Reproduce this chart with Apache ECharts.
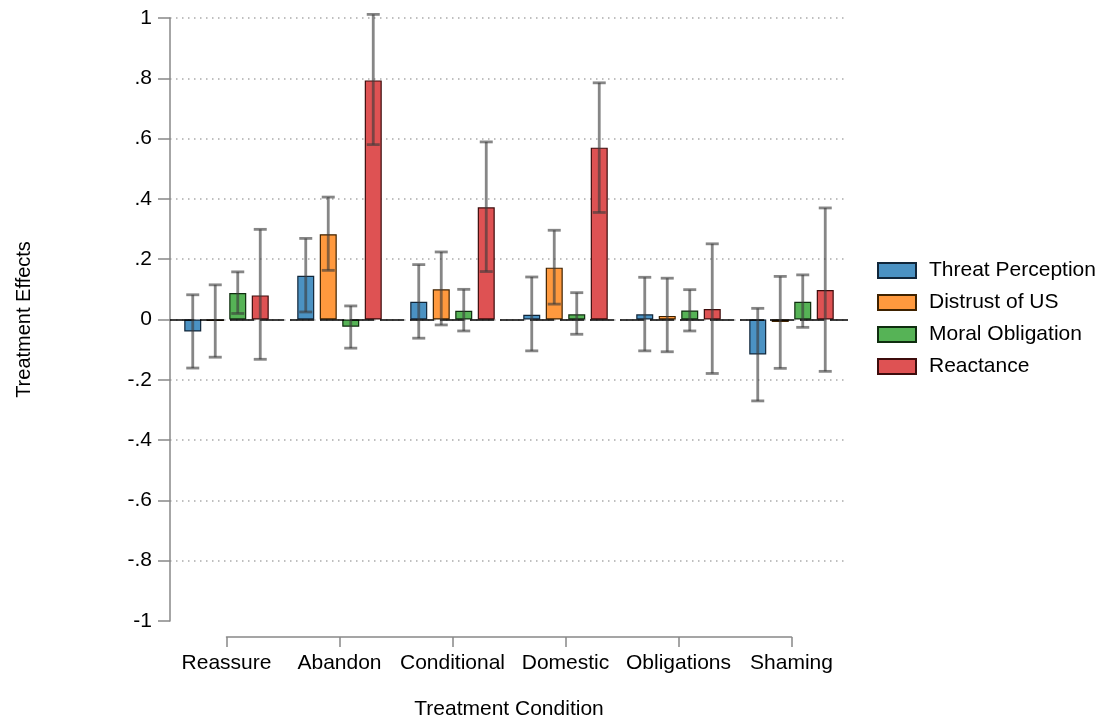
<!DOCTYPE html>
<html>
<head>
<meta charset="utf-8">
<script src="https://cdn.jsdelivr.net/npm/echarts@6/dist/echarts.min.js"></script>
<style>
  html, body { margin: 0; padding: 0; background: #fff; }
  #chart { width: 1107px; height: 721px; }
</style>
</head>
<body>
<div id="chart"></div>
<script>
// categories and series
const categories = ['Reassure', 'Abandon', 'Conditional', 'Domestic', 'Obligations', 'Shaming'];
const seriesNames = ['Threat Perception', 'Distrust of US', 'Moral Obligation', 'Reactance'];

// point estimates
const threatVal = [-0.04, 0.145, 0.059, 0.016, 0.017, -0.116];
const distrustVal = [-0.005, 0.283, 0.100, 0.172, 0.012, -0.008];
const moralVal = [0.088, -0.024, 0.029, 0.017, 0.030, 0.059];
const reactVal = [0.080, 0.793, 0.372, 0.570, 0.035, 0.098];

// confidence intervals (low / high)
const threatLo = [-0.161, 0.025, -0.062, -0.104, -0.104, -0.270];
const threatHi = [0.082, 0.269, 0.182, 0.141, 0.140, 0.037];
const distrustLo = [-0.125, 0.163, -0.018, 0.051, -0.107, -0.162];
const distrustHi = [0.115, 0.406, 0.224, 0.296, 0.137, 0.143];
const moralLo = [0.020, -0.095, -0.038, -0.049, -0.038, -0.026];
const moralHi = [0.158, 0.045, 0.100, 0.089, 0.099, 0.148];
const reactLo = [-0.132, 0.580, 0.159, 0.355, -0.179, -0.172];
const reactHi = [0.299, 1.012, 0.589, 0.785, 0.251, 0.370];

// y tick labels, from -1 to 1 by .2
const yTickLabels = ['-1', '-.8', '-.6', '-.4', '-.2', '0', '.2', '.4', '.6', '.8', '1'];

const values = [threatVal, distrustVal, moralVal, reactVal];
const lows = [threatLo, distrustLo, moralLo, reactLo];
const highs = [threatHi, distrustHi, moralHi, reactHi];
const fills = ['#4b92c3', '#ff993e', '#56b356', '#de5253'];
const edges = ['#10263a', '#3f2200', '#0f2d0f', '#3d0c0c'];

const FONT = "'Liberation Sans', Arial, sans-serif";
const FS = 21;
const BAR_W = 17;
const BAR_GAP = 5.5;

const chart = echarts.init(document.getElementById('chart'));

const barSeries = seriesNames.map((name, i) => ({
  name: name,
  type: 'bar',
  xAxisIndex: 0,
  yAxisIndex: 0,
  barWidth: BAR_W,
  barGap: (BAR_GAP / BAR_W * 100) + '%',
  data: values[i],
  itemStyle: { color: fills[i], borderColor: edges[i], borderWidth: 1.2 },
  z: 2,
  markLine: i === 0 ? {
    silent: true,
    symbol: 'none',
    label: { show: false },
    lineStyle: { color: '#000', width: 1.5, type: [24, 6] },
    data: [{ yAxis: 0 }],
    z: 3
  } : undefined
}));

// error bars, shifted to sit on their bar
const errSeries = seriesNames.map((name, i) => ({
  type: 'custom',
  xAxisIndex: 0,
  yAxisIndex: 0,
  z: 5,
  silent: true,
  data: categories.map((c, k) => [k, lows[i][k], highs[i][k]]),
  renderItem: function (params, api) {
    const off = (i - 1.5) * (BAR_W + BAR_GAP);
    const lo = api.coord([api.value(0), api.value(1)]);
    const hi = api.coord([api.value(0), api.value(2)]);
    const x = lo[0] + off;
    const cap = 6.5;
    const style = { stroke: 'rgba(60,60,60,0.62)', lineWidth: 2.8 };
    return {
      type: 'group',
      children: [
        { type: 'line', shape: { x1: x, y1: lo[1], x2: x, y2: hi[1] }, style: style },
        { type: 'line', shape: { x1: x - cap, y1: lo[1], x2: x + cap, y2: lo[1] }, style: style },
        { type: 'line', shape: { x1: x - cap, y1: hi[1], x2: x + cap, y2: hi[1] }, style: style }
      ]
    };
  }
}));

const option = {
  animation: false,
  backgroundColor: '#fff',
  textStyle: { fontFamily: FONT },
  grid: [
    { left: 170, top: 18, right: 259, bottom: 100 },
    { left: 226.5, top: 636, right: 315.5, height: 1 }
  ],
  legend: {
    orient: 'vertical',
    left: 872,
    top: 255,
    itemWidth: 38,
    itemHeight: 15,
    itemGap: 11,
    icon: 'rect',
    data: seriesNames,
    textStyle: { fontFamily: FONT, fontSize: FS, color: '#000', padding: [0, 0, 0, 8] }
  },
  xAxis: [
    {
      type: 'category',
      gridIndex: 0,
      data: categories,
      show: false
    },
    {
      type: 'category',
      gridIndex: 1,
      data: categories,
      boundaryGap: false,
      position: 'bottom',
      axisLine: { lineStyle: { color: '#888', width: 1.5 } },
      axisTick: { length: 10, lineStyle: { color: '#888', width: 1.5 } },
      axisLabel: { interval: 0, color: '#000', fontSize: FS, fontFamily: FONT, margin: 16 },
      splitLine: { show: false },
      name: 'Treatment Condition',
      nameLocation: 'middle',
      nameGap: 62,
      nameTextStyle: { color: '#000', fontSize: FS, fontFamily: FONT }
    }
  ],
  yAxis: [
    {
      type: 'value',
      gridIndex: 0,
      min: -1,
      max: 1,
      interval: 0.2,
      axisLine: { show: true, lineStyle: { color: '#888', width: 1.5 } },
      axisTick: { show: true, length: 12, lineStyle: { color: '#888', width: 1.5 } },
      axisLabel: {
        color: '#000',
        fontSize: FS,
        fontFamily: FONT,
        margin: 18,
        formatter: v => yTickLabels[Math.round((v + 1) / 0.2)]
      },
      splitLine: { show: true, showMinLine: false, lineStyle: { color: '#aaa', width: 1.5, type: [1.5, 4.5] } },
      name: 'Treatment Effects',
      nameLocation: 'middle',
      nameRotate: 90,
      nameGap: 136,
      nameTextStyle: { color: '#000', fontSize: FS - 1, fontFamily: FONT }
    },
    {
      type: 'value',
      gridIndex: 1,
      show: false
    }
  ],
  series: barSeries.concat(errSeries)
};

chart.setOption(option);
</script>
</body>
</html>
